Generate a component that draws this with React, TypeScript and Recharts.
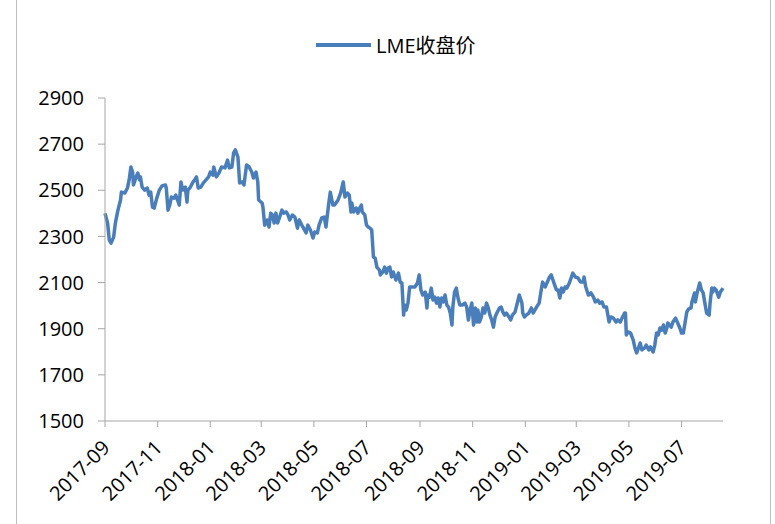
import React from 'react';
import { LineChart, Line, XAxis, YAxis } from 'recharts';

// LME close. x = days since 2017-09-01
const START = Date.UTC(2017, 8, 1);

const days = [
  0, 3, 5, 7, 10, 12, 15, 18, 19, 23, 26, 28, 30, 32, 33, 36, 38, 40, 41, 43,
  46, 49, 51, 53, 55, 57, 60, 63, 66, 70, 71, 73, 75, 77, 80, 82, 84, 86, 88, 90,
  93, 95, 96, 99, 102, 104, 106, 108, 111, 114, 117, 120, 122, 125, 126, 129, 132, 135, 139, 142,
  144, 147, 149, 151, 154, 156, 159, 161, 164, 167, 170, 172, 175, 177, 178, 182, 183, 185, 188, 190,
  192, 194, 196, 198, 200, 202, 205, 207, 210, 212, 214, 217, 220, 223, 225, 228, 230, 233, 235, 238,
  241, 243, 246, 248, 251, 254, 256, 259, 261, 264, 266, 270, 273, 276, 278, 281, 283, 285, 286, 288,
  291, 293, 295, 297, 298, 301, 303, 305, 307, 309, 311, 313, 315, 318, 319, 322, 324, 326, 328, 330,
  332, 334, 337, 340, 342, 344, 346, 347, 349, 351, 353, 356, 359, 362, 364, 366, 368, 371, 373, 374,
  376, 378, 380, 382, 384, 386, 388, 390, 392, 394, 396, 398, 400, 402, 403, 405, 407, 409, 411, 414,
  417, 419, 421, 423, 425, 427, 429, 431, 432, 434, 436, 438, 440, 442, 444, 446, 448, 450, 452, 454,
  457, 459, 461, 463, 465, 468, 470, 472, 475, 478, 480, 483, 484, 486, 488, 491, 494, 496, 498, 500,
  503, 505, 507, 510, 512, 515, 517, 519, 521, 523, 525, 527, 529, 531, 533, 535, 538, 540, 542, 545,
  548, 551, 554, 555, 557, 560, 563, 566, 568, 571, 573, 576, 578, 581, 584, 586, 589, 592, 594, 597,
  599, 602, 603, 604, 606, 609, 612, 614, 616, 618, 620, 622, 625, 627, 630, 632, 635, 637, 639, 641,
  643, 645, 647, 649, 651, 652, 656, 658, 661, 663, 666, 668, 670, 672, 674, 676, 679, 680, 683, 684,
  686, 689, 691, 693, 695, 697, 700, 701, 703, 704, 706, 708, 711, 713, 716,
];

const prices = [
  2400, 2358, 2284, 2271, 2297, 2358, 2414, 2458, 2492, 2488, 2510, 2545, 2601, 2579, 2523, 2558, 2575, 2545, 2558, 2514,
  2501, 2510, 2479, 2492, 2427, 2423, 2466, 2501, 2519, 2523, 2510, 2414, 2436, 2471, 2466, 2479, 2458, 2436, 2536, 2501,
  2514, 2449, 2501, 2514, 2536, 2545, 2558, 2510, 2514, 2532, 2545, 2558, 2579, 2566, 2601, 2558, 2575, 2601, 2597, 2631,
  2597, 2601, 2662, 2675, 2644, 2532, 2536, 2523, 2610, 2601, 2579, 2553, 2579, 2536, 2458, 2445, 2427, 2349, 2371, 2341,
  2401, 2393, 2358, 2401, 2358, 2380, 2414, 2401, 2406, 2393, 2371, 2393, 2384, 2336, 2371, 2349, 2336, 2315, 2349, 2328,
  2293, 2319, 2315, 2349, 2380, 2384, 2341, 2436, 2492, 2436, 2436, 2458, 2488, 2536, 2471, 2488, 2479, 2406, 2445, 2406,
  2423, 2401, 2423, 2436, 2406, 2393, 2349, 2341, 2336, 2328, 2211, 2206, 2167, 2154, 2133, 2146, 2167, 2141, 2163, 2167,
  2124, 2146, 2111, 2141, 2102, 2098, 1959, 2003, 1981, 2011, 2081, 2081, 2081, 2098, 2133, 2068, 2046, 2059, 1990, 2046,
  2037, 2076, 2024, 2037, 2011, 2033, 1994, 2033, 2016, 2046, 2003, 1994, 1968, 1916, 1994, 2059, 2076, 2033, 2003, 2003,
  2011, 1994, 1938, 1981, 2011, 1916, 1990, 1929, 1981, 1929, 1951, 1990, 1968, 2011, 1990, 1959, 1938, 1907, 1951, 1968,
  1990, 1994, 1972, 1959, 1968, 1951, 1938, 1959, 1972, 2016, 2046, 2011, 1968, 1951, 1959, 1968, 1990, 1968, 1981, 1994,
  2011, 2059, 2102, 2081, 2098, 2124, 2133, 2111, 2089, 2068, 2068, 2033, 2076, 2059, 2081, 2076, 2098, 2120, 2141, 2124,
  2120, 2102, 2102, 2124, 2081, 2046, 2055, 2037, 2016, 2024, 2011, 2016, 1994, 1994, 1929, 1951, 1946, 1929, 1938, 1929,
  1946, 1968, 1968, 1873, 1886, 1881, 1851, 1816, 1795, 1816, 1838, 1808, 1816, 1829, 1808, 1821, 1799, 1829, 1881, 1873,
  1903, 1894, 1916, 1881, 1903, 1925, 1907, 1929, 1946, 1929, 1903, 1881, 1881, 1925, 1972, 1985, 1990, 2016, 2055, 2016,
  2055, 2098, 2068, 2055, 2011, 1968, 1959, 2011, 2076, 2059, 2076, 2068, 2037, 2059, 2076,
];

const monthLabels = [
  '2017-09', '2017-11', '2018-01', '2018-03', '2018-05', '2018-07',
  '2018-09', '2018-11', '2019-01', '2019-03', '2019-05', '2019-07',
];
const yTicks = [1500, 1700, 1900, 2100, 2300, 2500, 2700, 2900];

const toDay = (ym: string) => {
  const [y, m] = ym.split('-').map(Number);
  return Math.round((Date.UTC(y, m - 1, 1) - START) / 86400000);
};
const xTicks = monthLabels.map(toDay);
const labelOf = (d: number) => monthLabels[xTicks.indexOf(d)] ?? '';

const data = days.map((d, i) => ({ day: d, price: prices[i] }));

const FONT = '"Open Sans", "Noto Sans CJK SC", sans-serif';
const AXIS = '#a6a6a6';
const BLUE = '#4a7ebb';

const DateTick = ({ x, y, payload }: any) => (
  <g transform={`translate(${x + 6},${y + 20})`}>
    <text textAnchor="end" transform="rotate(-45)" fill="#000" fontSize={20} fontFamily={FONT}>
      {labelOf(payload.value)}
    </text>
  </g>
);

export default function App() {
  return (
    <div style={{ position: 'absolute', left: 0, top: 0, width: 775, height: 524, background: '#fff', overflow: 'hidden' }}>
      <div style={{ position: 'absolute', left: 16, top: -2, width: 753, height: 530, borderLeft: '1px solid #bfbfbf', borderRight: '1px solid #bfbfbf' }} />
      <div style={{ position: 'absolute', top: 30, left: 316, display: 'flex', alignItems: 'center', fontFamily: FONT, fontSize: 20 }}>
        <span style={{ display: 'inline-block', width: 55, height: 4, background: BLUE, marginRight: 5 }} />
        <span>LME收盘价</span>
      </div>
      <LineChart width={775} height={524} data={data} margin={{ top: 98, right: 52, bottom: 0, left: 0 }}>
        <XAxis
          dataKey="day"
          type="number"
          domain={[0, 716]}
          ticks={xTicks}
          interval={0}
          height={103}
          stroke={AXIS}
          tickLine={{ stroke: AXIS }}
          tick={<DateTick />}
        />
        <YAxis
          type="number"
          domain={[1500, 2900]}
          ticks={yTicks}
          interval={0}
          width={105}
          stroke={AXIS}
          tickLine={{ stroke: AXIS }}
          tickSize={7}
          tickMargin={14}
          tick={{ fill: '#000', fontSize: 20, fontFamily: FONT }}
        />
        <Line
          type="linear"
          dataKey="price"
          stroke={BLUE}
          strokeWidth={3.5}
          strokeLinejoin="round"
          dot={false}
          isAnimationActive={false}
        />
      </LineChart>
    </div>
  );
}
